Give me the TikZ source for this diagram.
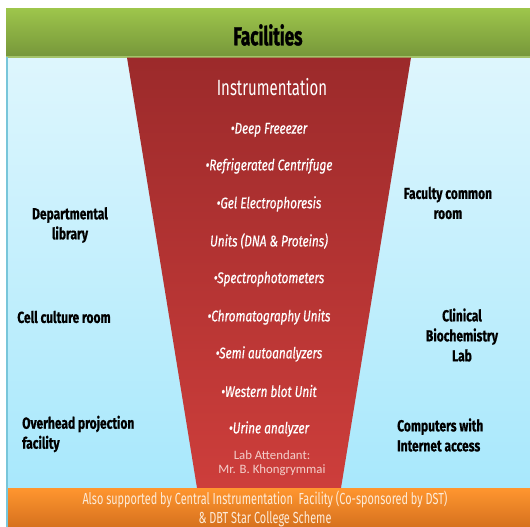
\documentclass[tikz,border=0pt]{standalone}
\usepackage{fontspec}
\newfontfamily\agency[FakeStretch=0.68]{Fira Sans}
\newfontfamily\agencyside[FakeStretch=0.75,FakeBold=0.6]{Fira Sans}
\newfontfamily\agencytitle[FakeStretch=0.66,FakeBold=1.2]{Fira Sans}
\newfontfamily\agencyitem[FakeStretch=0.76,FakeBold=0.5]{Fira Sans}
\newfontfamily\calib{Carlito}
\definecolor{greentop}{HTML}{9DC54B}
\definecolor{greenbot}{HTML}{76963A}
\definecolor{greenline}{HTML}{A4C46A}
\definecolor{bluetop}{HTML}{DEF6FD}
\definecolor{bluebot}{HTML}{A8E8FC}
\definecolor{edgeblue}{HTML}{78C6DA}
\definecolor{redtop}{HTML}{9C2A2B}
\definecolor{redbot}{HTML}{CD3E3B}
\definecolor{orangetop}{HTML}{FF962F}
\definecolor{orangebot}{HTML}{D6711E}
\definecolor{attend}{HTML}{F3CFCB}
\definecolor{orangetext}{HTML}{FDEBD8}
\begin{document}
\begin{tikzpicture}[x=1pt,y=-1pt,
  side/.style={font=\agencyside\bfseries\fontsize{16}{20}\selectfont, text=black, inner sep=0},
  item/.style={font=\agencyitem\itshape\fontsize{15.5}{18}\selectfont, text=white, inner sep=0},
  ]
\useasboundingbox (0,0) rectangle (530,527);
\fill[white] (0,0) rectangle (530,527);
\shade[top color=bluetop, bottom color=bluebot] (6,57) rectangle (530,488);
\shade[top color=greentop, bottom color=greenbot] (6,9) rectangle (530,57);
\draw[greenline, line width=1.2] (6,57) -- (530,57);
\shade[top color=redtop, bottom color=redbot] (127,57.6) -- (411,57.6) -- (341,488) -- (197,488) -- cycle;
\shade[top color=orangetop, bottom color=orangebot] (6,488) rectangle (530,527);
\draw[edgeblue, line width=1.5] (6.75,57) -- (6.75,527);

\node[font=\agencytitle\bfseries\fontsize{26}{30}\selectfont, inner sep=0] (title) at (268,35) {Facilities};

\node[font=\agency\fontsize{22}{26}\selectfont, text=white, inner sep=0] (instr) at (272,87) {Instrumentation};
\node[item] (i1) at (269,130) {•Deep Freeezer};
\node[item] (i2) at (269,166) {•Refrigerated Centrifuge};
\node[item] (i3) at (269,204) {•Gel Electrophoresis};
\node[item] (i4) at (269,241) {Units (DNA \& Proteins)};
\node[item] (i5) at (269,279) {•Spectrophotometers};
\node[item] (i6) at (269,317) {•Chromatography Units};
\node[item] (i7) at (269,354) {•Semi autoanalyzers};
\node[item] (i8) at (269,391) {•Western blot Unit};
\node[item] (i9) at (269,429) {•Urine analyzer};
\node[font=\calib\fontsize{12.8}{14.5}\selectfont, text=attend, align=center, inner sep=0] (att) at (272,463) {Lab Attendant:\\Mr. B. Khongrymmai};

\node[side, align=center] (lib) at (70,225) {Departmental\\library};
\node[side] (cell) at (64,317) {Cell culture room};
\node[side, align=left, anchor=west] (ohp) at (22,434) {Overhead projection\\facility};
\node[side, align=center] (fac) at (448,203) {Faculty common\\room};
\node[side, align=center] (clin) at (462,335) {Clinical\\Biochemistry\\Lab};
\node[side, align=left, anchor=west] (comp) at (397,435) {Computers with\\Internet access};

\node[font=\agency\fontsize{16}{19}\selectfont, text=orangetext, align=center, inner sep=0] (supp) at (265,509) {Also supported by Central Instrumentation\ \ Facility (Co-sponsored by DST)\\\& DBT Star College Scheme};
\end{tikzpicture}
\end{document}
